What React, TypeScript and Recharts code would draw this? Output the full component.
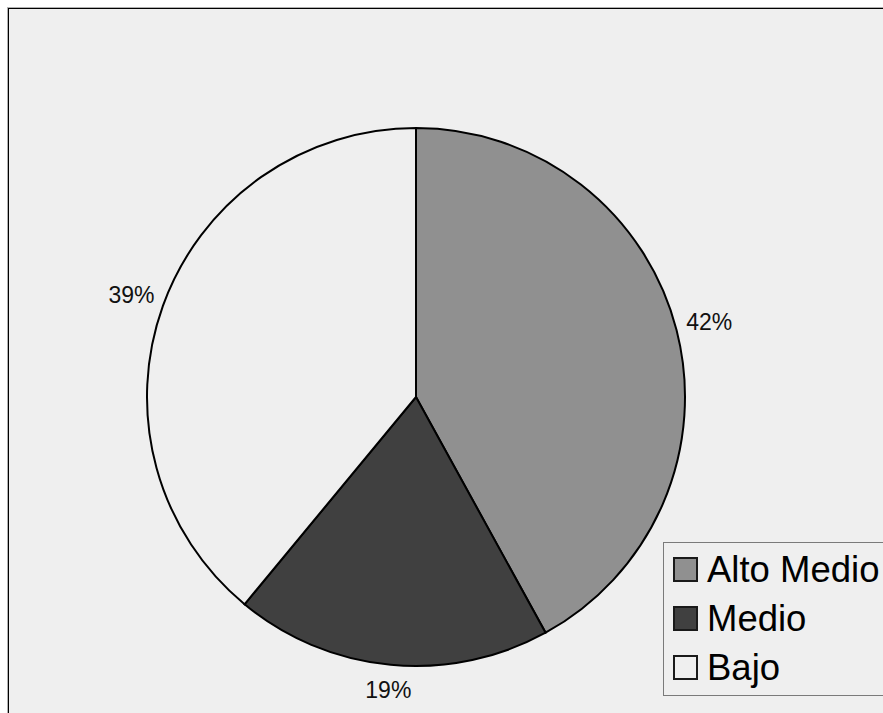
import { PieChart, Pie, Cell, Legend } from "recharts";

const categories = ["Alto Medio", "Medio", "Bajo"];
const values = [42, 19, 39];
const colors = ["#909090", "#404040", "#efefef"];

const data = categories.map((name, i) => ({ name, value: values[i] }));

const RAD = Math.PI / 180;

function renderLabel(props: any) {
  const { cx, cy, midAngle, outerRadius, percent } = props;
  const horiz = Math.abs(Math.cos(-midAngle * RAD));
  const r = outerRadius + 24 + 10 * horiz;
  const x = cx + r * Math.cos(-midAngle * RAD);
  const y = cy + r * Math.sin(-midAngle * RAD);
  return (
    <text
      x={x}
      y={y}
      textAnchor="middle"
      dominantBaseline="central"
      fill="#111"
      style={{ fontSize: "23px", fontFamily: "'Liberation Sans', Arial, sans-serif" }}
    >
      {Math.round(percent * 100)}%
    </text>
  );
}

function LegendBox() {
  return (
    <div
      style={{
        border: "1px solid #7a7a7a",
        background: "#efefef",
        padding: "2px 0 3px 9px",
        fontFamily: "'Liberation Sans', Arial, sans-serif",
        fontSize: "36.5px",
        color: "#000",
      }}
    >
      {categories.map((c, i) => (
        <div key={c} style={{ display: "flex", alignItems: "center", height: 49 }}>
          <span
            style={{
              display: "inline-block",
              width: 25,
              height: 25,
              boxSizing: "border-box",
              border: "2px solid #1a1a1a",
              background: colors[i],
              marginRight: 9,
            }}
          />
          <span style={{ whiteSpace: "nowrap" }}>{c}</span>
        </div>
      ))}
    </div>
  );
}

export default function App() {
  return (
    <>
      <style>{"body{margin:0;overflow:hidden;background:#fff}"}</style>
      <div
        style={{
          position: "absolute",
          left: 8,
          top: 8,
          border: "1px solid #000",
          outline: "1px solid #b0b0b0",
          background: "#efefef",
          width: 900,
          height: 720,
          overflow: "hidden",
        }}
      >
        <PieChart width={900} height={720} margin={{ top: 0, right: 0, bottom: 0, left: 0 }}>
          <Pie
            data={data}
            dataKey="value"
            nameKey="name"
            cx={407}
            cy={388}
            outerRadius={269}
            startAngle={90}
            endAngle={-270}
            stroke="#000"
            strokeWidth={2}
            label={renderLabel}
            labelLine={false}
            isAnimationActive={false}
          >
            {data.map((d, i) => (
              <Cell key={d.name} fill={colors[i]} />
            ))}
          </Pie>
          <Legend
            content={<LegendBox />}
            wrapperStyle={{ left: 654, top: 533, width: 260, bottom: "auto", right: "auto" }}
          />
        </PieChart>
      </div>
    </>
  );
}
